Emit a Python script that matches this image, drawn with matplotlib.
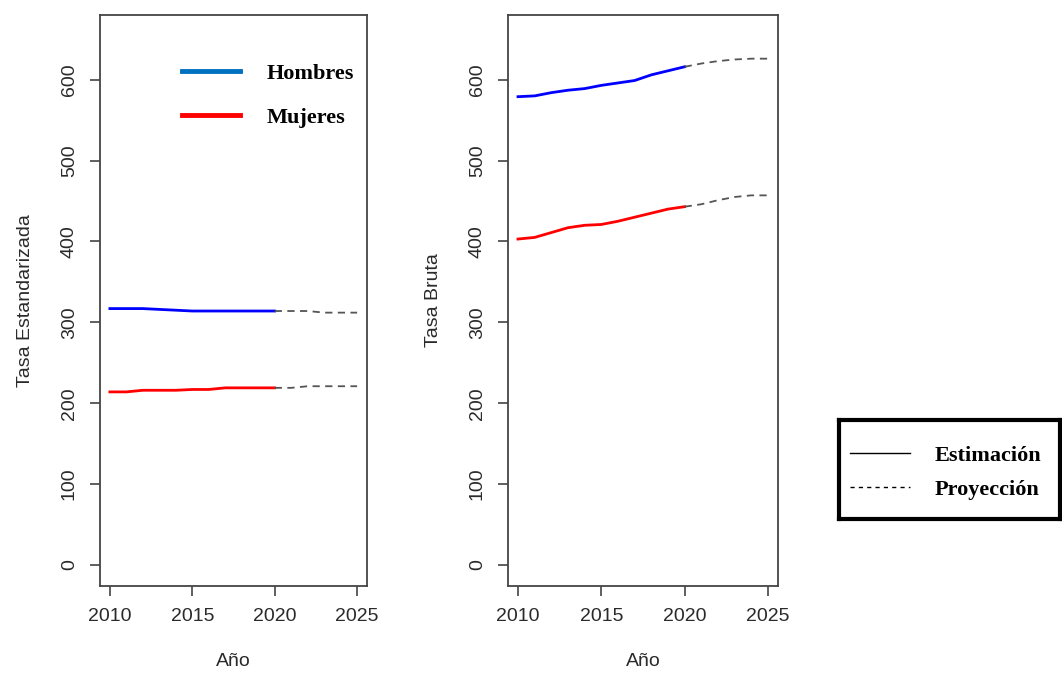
import matplotlib.pyplot as plt
from matplotlib.lines import Line2D

# Años observados y proyectados
anios_est = [2010, 2011, 2012, 2013, 2014, 2015, 2016, 2017, 2018, 2019, 2020]
anios_proy = [2020, 2021, 2022, 2023, 2024, 2025]

# Tasa estandarizada
est_hombres = [317, 317, 317, 316, 315, 314, 314, 314, 314, 314, 314]
est_mujeres = [214, 214, 216, 216, 216, 217, 217, 219, 219, 219, 219]
proy_est_hombres = [314, 314, 314, 312, 312, 312]
proy_est_mujeres = [219, 219, 221, 221, 221, 221]

# Tasa bruta
bruta_hombres = [579, 580, 584, 587, 589, 593, 596, 599, 606, 611, 616]
bruta_mujeres = [403, 405, 411, 417, 420, 421, 425, 430, 435, 440, 443]
proy_bruta_hombres = [616, 620, 623, 625, 626, 626]
proy_bruta_mujeres = [443, 446, 451, 455, 457, 457]

xticks = [2010, 2015, 2020, 2025]
yticks = [0, 100, 200, 300, 400, 500, 600]

sans = ["Liberation Sans", "DejaVu Sans"]
serif = ["Liberation Serif", "DejaVu Serif"]
gris = "#444444"

fig = plt.figure(figsize=(10.62, 6.73), dpi=100)
ax1 = fig.add_axes([100 / 1062, 1 - 586 / 673, 267 / 1062, 571 / 673])
ax2 = fig.add_axes([508 / 1062, 1 - 586 / 673, 270 / 1062, 571 / 673])


def panel(ax, hom, muj, p_hom, p_muj, ylabel):
    ax.plot(anios_est, hom, color="blue", lw=2)
    ax.plot(anios_est, muj, color="red", lw=2)
    ax.plot(anios_proy, p_hom, color="#555555", lw=1.3, ls=(0, (4, 3)))
    ax.plot(anios_proy, p_muj, color="#555555", lw=1.3, ls=(0, (4, 3)))
    ax.set_xlim(2009.4, 2025.6)
    ax.set_ylim(-26, 680)
    ax.set_xticks(xticks)
    ax.set_yticks(yticks)
    ax.set_xticklabels([str(t) for t in xticks], family=sans, fontsize=14, color="#2a2a2a")
    ax.set_yticklabels([str(t) for t in yticks], family=sans, fontsize=14,
                       rotation=90, va="center", color="#2a2a2a")
    ax.tick_params(length=7, width=1.2, color=gris, pad=9)
    for s in ax.spines.values():
        s.set_color(gris)
        s.set_linewidth(1.3)
    ax.set_xlabel("Año", family=sans, fontsize=14, labelpad=20, color="#2a2a2a")
    ax.set_ylabel(ylabel, family=sans, fontsize=14, labelpad=19, color="#2a2a2a")


panel(ax1, est_hombres, est_mujeres, proy_est_hombres, proy_est_mujeres,
      "Tasa Estandarizada")
panel(ax2, bruta_hombres, bruta_mujeres, proy_bruta_hombres, proy_bruta_mujeres,
      "Tasa Bruta")

# Leyenda de sexo dentro del primer panel
sexo = [Line2D([], [], color="#0070C0", lw=3.5),
        Line2D([], [], color="red", lw=3.5)]
ax1.legend(sexo, ["Hombres", "Mujeres"], loc="upper left",
           bbox_to_anchor=(0.232, 0.95), frameon=False, handlelength=2.6,
           handletextpad=1.2, labelspacing=1.05,
           prop={"family": serif, "weight": "bold", "size": 16})

# Leyenda de tipo de línea en un recuadro aparte
axl = fig.add_axes([839 / 1062, 1 - 519 / 673, 221 / 1062, 99 / 673])
axl.set_xticks([])
axl.set_yticks([])
for s in axl.spines.values():
    s.set_linewidth(3)
    s.set_color("black")
tipo = [Line2D([], [], color="black", lw=1.0),
        Line2D([], [], color="black", lw=1.0, ls=(0, (3, 3)))]
axl.legend(tipo, ["Estimación", "Proyección"], loc="center left",
           bbox_to_anchor=(0.0, 0.47), frameon=False, borderaxespad=0.1,
           borderpad=0.4, handlelength=2.7, handletextpad=1.1,
           labelspacing=0.62,
           prop={"family": serif, "weight": "bold", "size": 16})

fig.savefig("out.png", dpi=100)
